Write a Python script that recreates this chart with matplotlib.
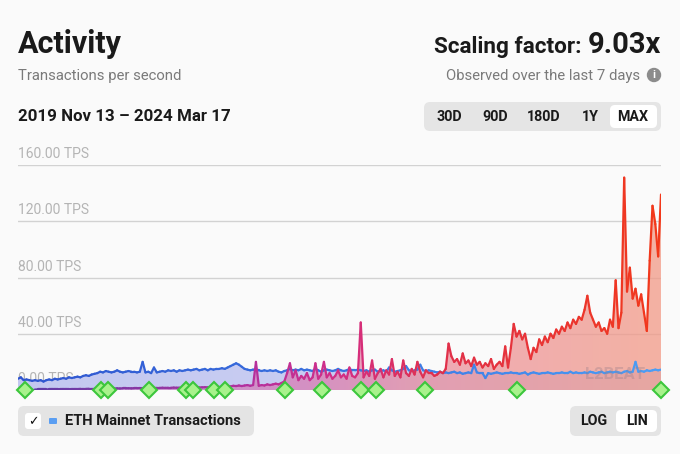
import numpy as np
import pandas as pd
import matplotlib
matplotlib.use('Agg')
import matplotlib.pyplot as plt
import matplotlib.dates as mdates
from matplotlib.collections import LineCollection
from matplotlib.colors import LinearSegmentedColormap, Normalize
from matplotlib.patches import FancyBboxPatch, Circle

plt.rcParams['font.family'] = ['Roboto', 'DejaVu Sans']

# weekly samples, 2019 Nov 13 -> 2024 Mar 17
eth_tps = [
    8, 9, 7, 7.5, 7, 6.5, 7, 6.5, 7, 6,
    7, 7.5, 7, 8, 7.5, 8, 8.5, 8, 9, 8.5,
    9, 9.5, 9, 10, 10.5, 10, 11, 11.5, 12, 13,
    12.5, 13.5, 13, 12.5, 13, 14, 13, 12.5, 13, 13.5,
    13, 13, 12.5, 13, 20, 12.5, 13, 12, 16, 12.5,
    13, 13.5, 13, 14, 13.5, 14, 13, 14, 13.5, 14,
    14.5, 14, 14.5, 15, 14, 14.5, 15, 14, 15, 14.5,
    15, 15, 15.5, 15, 16, 17, 18, 19, 18, 16.5,
    15, 14.5, 14, 14.5, 14, 14, 13.5, 14, 13.5, 14,
    13.5, 14, 13, 12.5, 13.5, 14, 15, 14, 14.5, 14,
    15, 14, 14.5, 14, 13.5, 15, 14, 13, 14, 14.5,
    14, 13.5, 14, 15, 14, 13.5, 14, 15, 14, 14,
    14.5, 14, 13.5, 14, 13, 14, 14.5, 13, 13.5, 14,
    13, 16, 14, 13, 13.5, 14, 15, 17, 14, 13.5,
    14, 14.5, 18, 14, 13.5, 14, 13.5, 13, 12.5, 13,
    12, 12.5, 12, 12.5, 13, 12, 12.5, 11.5, 12, 12.5,
    12, 18, 12.5, 12, 12, 8.5, 12, 11.5, 12, 12.5,
    12, 11.5, 12, 12, 12.5, 12, 12, 11.5, 12, 12.5,
    11, 12, 12.5, 12, 11.5, 12, 12, 12.5, 12, 11.5,
    12, 12, 12.5, 12, 12, 13, 12, 12.5, 12, 12,
    12.5, 12, 13, 12.5, 12, 12.5, 13, 12, 12.5, 13,
    12.5, 13, 12.5, 12, 13, 13.5, 12.5, 13, 20, 13,
    13.5, 13, 14, 13.5, 14, 14.5, 14, 14.5,
]

rollup_tps = [
    0.2, 0.2, 0.2, 0.3, 0.3, 0.3, 0.3, 0.4, 0.4, 0.4,
    0.4, 0.5, 0.5, 0.5, 0.5, 0.6, 0.6, 0.6, 0.6, 0.7,
    0.7, 0.7, 0.8, 0.8, 0.8, 0.9, 0.9, 0.9, 1.0, 1.0,
    1.0, 1.1, 1.0, 1.1, 1.1, 1.2, 1.1, 1.2, 1.2, 1.3,
    1.2, 1.3, 1.3, 1.4, 1.3, 1.4, 1.4, 1.5, 1.4, 1.5,
    1.5, 1.6, 1.5, 1.6, 1.6, 1.7, 1.6, 1.7, 1.7, 1.8,
    1.8, 1.7, 1.8, 1.9, 1.8, 1.9, 2.0, 1.9, 2.0, 2.1,
    2.0, 2.1, 2.2, 2.5, 3.0, 2.5, 3.0, 2.8, 3.2, 2.8,
    3.2, 3.5, 3.0, 3.5, 20, 3.0, 3.5, 3.2, 4.0, 3.5,
    4.0, 4.5, 4.0, 5.0, 6.0, 12, 19, 9, 14, 7,
    10, 8, 12, 7, 9, 19, 8, 11, 20, 9,
    12, 8, 10, 14, 9, 11, 8, 16, 10, 9,
    12, 48, 9, 13, 10, 21, 8, 12, 15, 9,
    14, 11, 22, 10, 13, 9, 21, 12, 10, 15,
    11, 20, 13, 9, 14, 12, 12, 10, 11, 13,
    12, 15, 33, 24, 20, 22, 18, 26, 19, 21,
    17, 23, 18, 20, 16, 19, 17, 22, 15, 18,
    20, 17, 31, 16, 30, 47, 38, 42, 36, 40,
    30, 22, 30, 27, 36, 32, 38, 34, 40, 37,
    43, 40, 45, 42, 48, 44, 50, 47, 52, 50,
    57, 67, 55, 50, 45, 48, 42, 44, 40, 50,
    45, 78, 44, 55, 151, 70, 87, 65, 72, 60,
    68, 55, 42, 92, 131, 118, 95, 139,
]

# upgrade / milestone markers on the time axis
milestones = ['2019-11-30', '2020-06-05', '2020-06-22', '2020-10-01', '2021-01-01',
              '2021-01-18', '2021-03-11', '2021-04-07', '2021-09-02', '2021-12-02',
              '2022-03-08', '2022-04-14', '2022-08-13', '2023-03-28', '2024-03-17']

y_ticks = [0, 40, 80, 120, 160]
start, end = '2019-11-13', '2024-03-17'

eth_x = mdates.date2num(pd.date_range(start, end, periods=len(eth_tps)))
rol_x = mdates.date2num(pd.date_range(start, end, periods=len(rollup_tps)))
eth_y = np.array(eth_tps, dtype=float)
rol_y = np.array(rollup_tps, dtype=float)

bg = '#fafafa'
fig = plt.figure(figsize=(6.8, 4.54), dpi=100, facecolor=bg)

# ---- ui layer in pixel coords
ui = fig.add_axes([0, 0, 1, 1])
ui.set_xlim(0, 680)
ui.set_ylim(454, 0)
ui.axis('off')

ui.text(18, 53, 'Activity', fontsize=22, fontweight='bold', color='#1a1a1a', va='baseline')
ui.text(18, 80, 'Transactions per second', fontsize=10.7, color='#7a7a7a', va='baseline')
ui.text(18, 121, '2019 Nov 13 \u2013 2024 Mar 17', fontsize=12.2, fontweight='bold',
        color='#1a1a1a', va='baseline')

ui.text(661, 53, '9.03x', fontsize=21, fontweight='bold', color='#1a1a1a', ha='right', va='baseline')
ui.text(581, 53, 'Scaling factor:', fontsize=16.2, fontweight='bold', color='#1a1a1a',
        ha='right', va='baseline')
ui.text(640, 80, 'Observed over the last 7 days', fontsize=10.7, color='#7a7a7a',
        ha='right', va='baseline')
ui.add_patch(Circle((654, 75), 6.5, color='#8c8c8c'))
ui.text(654, 75.5, 'i', fontsize=8, fontweight='bold', color='white', ha='center', va='center')

ui.add_patch(FancyBboxPatch((424, 102), 237, 29, boxstyle='round,pad=0,rounding_size=6',
                            fc='#e5e5e5', ec='none'))
ui.add_patch(FancyBboxPatch((610, 105), 47, 23, boxstyle='round,pad=0,rounding_size=5',
                            fc='white', ec='none'))
for lab, xc in zip(['30D', '90D', '180D', '1Y', 'MAX'], [449, 495, 544, 590, 633]):
    ui.text(xc, 117, lab, fontsize=10.3, fontweight='bold', color='#1a1a1a', ha='center', va='center')

ui.add_patch(FancyBboxPatch((18, 406), 236, 30, boxstyle='round,pad=0,rounding_size=6',
                            fc='#e4e4e4', ec='none'))
ui.add_patch(FancyBboxPatch((25, 413), 16, 16, boxstyle='round,pad=0,rounding_size=3',
                            fc='white', ec='none'))
ui.text(33, 421.5, '\u2713', fontsize=9, color='#111111', ha='center', va='center',
        family=['DejaVu Sans'])
ui.add_patch(FancyBboxPatch((49, 418), 8, 6, boxstyle='round,pad=0,rounding_size=1',
                            fc='#5a9ef2', ec='none'))
ui.text(65, 421, 'ETH Mainnet Transactions', fontsize=10.6, fontweight='bold', color='#1a1a1a',
        va='center')

ui.add_patch(FancyBboxPatch((570, 406), 91, 30, boxstyle='round,pad=0,rounding_size=6',
                            fc='#e4e4e4', ec='none'))
ui.add_patch(FancyBboxPatch((616, 410), 41, 22, boxstyle='round,pad=0,rounding_size=5',
                            fc='white', ec='none'))
ui.text(594, 421, 'LOG', fontsize=10.3, fontweight='bold', color='#1a1a1a', ha='center', va='center')
ui.text(637, 421, 'LIN', fontsize=10.3, fontweight='bold', color='#1a1a1a', ha='center', va='center')

# ---- chart
ax = fig.add_axes([18 / 680, 1 - 390 / 454, 643 / 680, 225 / 454])
ax.patch.set_alpha(0)
for s in ax.spines.values():
    s.set_visible(False)
ax.set_xticks([])
ax.set_yticks([])

for t in y_ticks:
    ax.axhline(t, color='#d2d2d2', lw=1, zorder=0.5)
    ax.text(eth_x[0], t + 7.8, f'{t:.2f} TPS', fontsize=10, color='#b4b4b4', va='center', zorder=0.6)


def gradient_fill(x, y, cmap, alpha, z):
    poly = ax.fill_between(x, 0, y, facecolor='none', edgecolor='none')
    grad = np.linspace(0, 1, 256).reshape(1, -1)
    im = ax.imshow(grad, extent=[x.min(), x.max(), 0, 160], aspect='auto', cmap=cmap,
                   alpha=alpha, zorder=z, origin='lower', interpolation='bilinear')
    im.set_clip_path(poly.get_paths()[0], transform=ax.transData)


def gradient_line(x, y, cmap, lw, z):
    pts = np.array([x, y]).T.reshape(-1, 1, 2)
    segs = np.concatenate([pts[:-1], pts[1:]], axis=1)
    lc = LineCollection(segs, cmap=cmap, norm=Normalize(x.min(), x.max()), lw=lw, zorder=z,
                        capstyle='round', joinstyle='round')
    lc.set_array((x[:-1] + x[1:]) / 2)
    ax.add_collection(lc)


eth_fill = LinearSegmentedColormap.from_list('ef', ['#c3c8f0', '#c9cdf2', '#c8d0f4'])
rol_fill = LinearSegmentedColormap.from_list('rf', [(0, '#b78ad2'), (0.45, '#d97cb4'),
                                                    (0.62, '#ea8f9f'), (1, '#f29a86')])
eth_line = LinearSegmentedColormap.from_list('el', ['#2f55cf', '#3a72e0', '#4b9ef5'])
rol_line = LinearSegmentedColormap.from_list('rl', [(0, '#5a3ea8'), (0.35, '#b2309f'),
                                                    (0.5, '#d32e86'), (0.65, '#e0304c'),
                                                    (1, '#f2381a')])

gradient_fill(eth_x, eth_y, eth_fill, 1.0, 1)
gradient_fill(rol_x, rol_y, rol_fill, 0.75, 2)
gradient_line(eth_x, eth_y, eth_line, 1.6, 3)
gradient_line(rol_x, rol_y, rol_line, 1.6, 4)

ms_x = mdates.date2num(pd.to_datetime(milestones))
ax.plot(ms_x, np.zeros(len(ms_x)), ls='none', marker='D', ms=8.5, mfc='#a8f28c', mec='#3cc63c',
        mew=1.5, clip_on=False, zorder=6)

ax.text(0.975, 0.07, 'L2BEAT', transform=ax.transAxes, fontsize=12, fontweight='bold',
        color='#9a7f8a', alpha=0.35, ha='right', va='center', zorder=5)

ax.set_xlim(eth_x[0], eth_x[-1])
ax.set_ylim(0, 160)

fig.savefig('out.png', dpi=100, facecolor=bg)
